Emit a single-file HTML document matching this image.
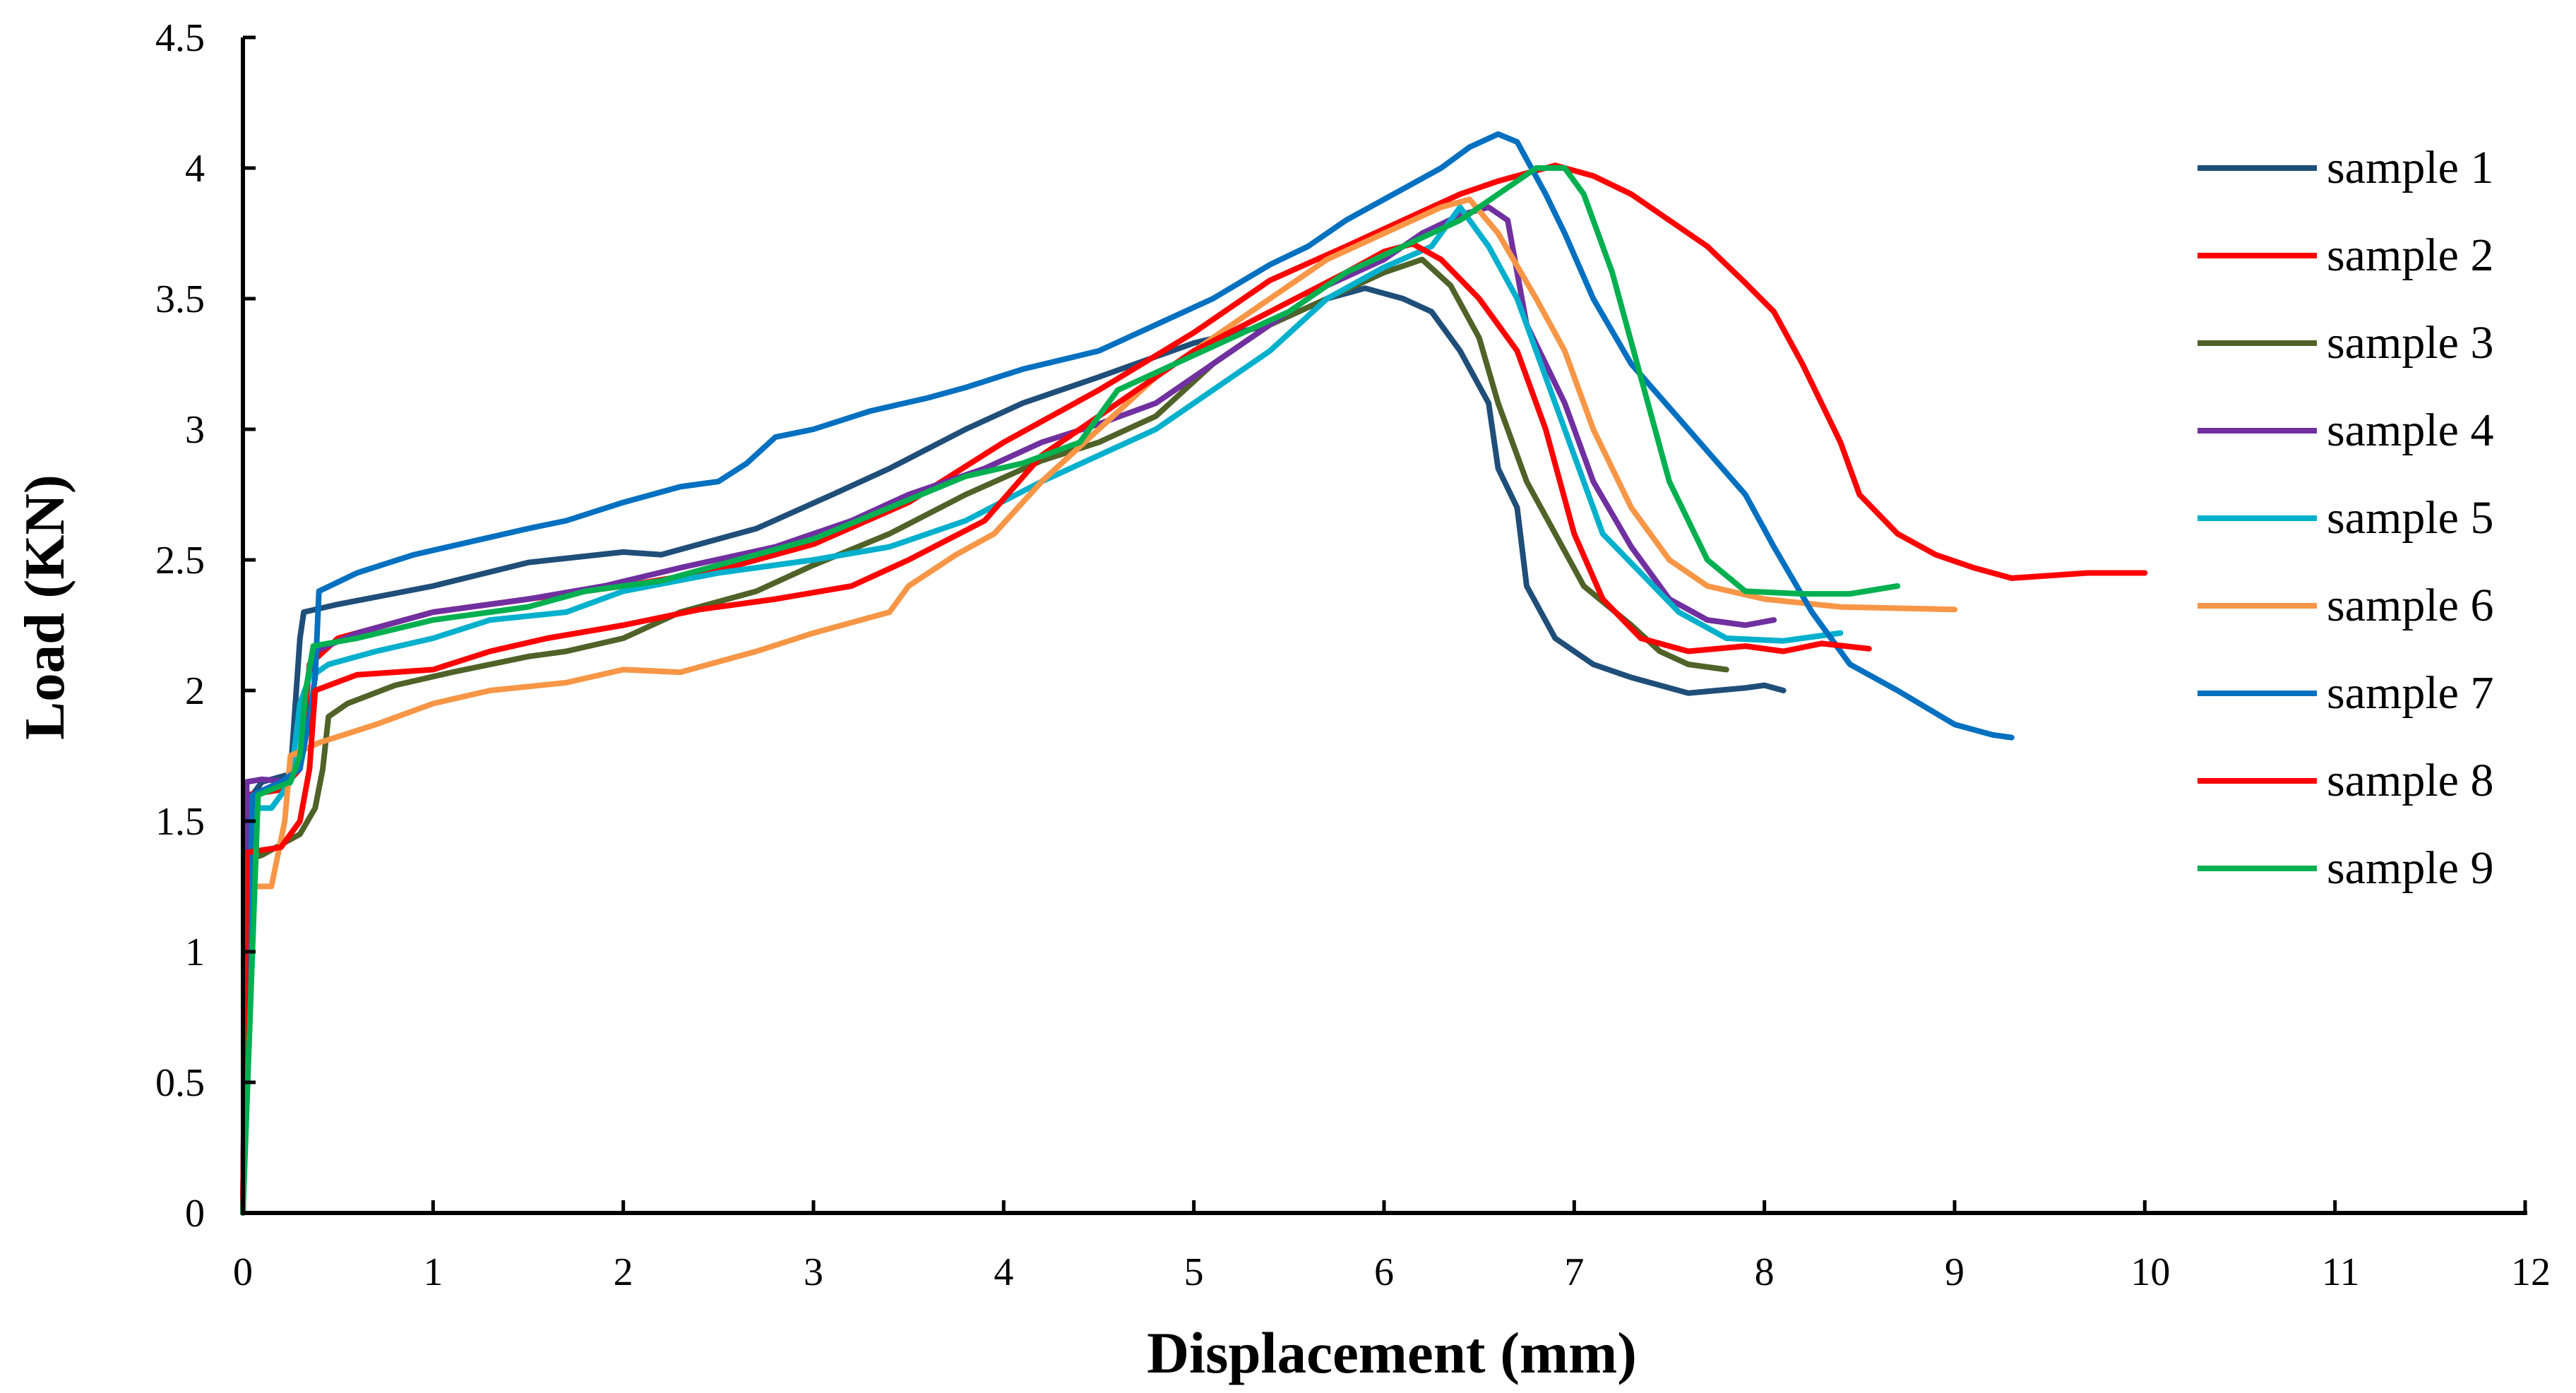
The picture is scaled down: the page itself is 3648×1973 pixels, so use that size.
<!DOCTYPE html>
<html><head><meta charset="utf-8"><style>
html,body{margin:0;padding:0;background:#fff}
svg{display:block;font-family:"Liberation Serif",serif}
</style></head><body>
<svg id="chart" width="3648" height="1973" viewBox="0 0 3648 1973" xmlns="http://www.w3.org/2000/svg">
<g id="plot"></g>
</svg>
<script>
const xTicks=[0,1,2,3,4,5,6,7,8,9,10,11,12];
const yTicks=[0,0.5,1,1.5,2,2.5,3,3.5,4,4.5];
const yTickLabels=["0","0.5","1","1.5","2","2.5","3","3.5","4","4.5"];
const seriesNames=["sample 1","sample 2","sample 3","sample 4","sample 5","sample 6","sample 7","sample 8","sample 9"];
const seriesColors=["#1F4E79","#FF0000","#4F6228","#7030A0","#00B0CC","#F79646","#0070C0","#FF0000","#00B050"];
const s1=[[0,0],[0.05,1.6],[0.1,1.65],[0.25,1.68],[0.3,2.2],[0.32,2.3],[0.5,2.33],[1,2.4],[1.5,2.49],[2,2.53],[2.2,2.52],[2.7,2.62],[3.1,2.75],[3.4,2.85],[3.8,3.0],[4.1,3.1],[4.5,3.2],[5,3.33],[5.4,3.4],[5.7,3.5],[5.9,3.54],[6.1,3.5],[6.25,3.45],[6.4,3.3],[6.55,3.1],[6.6,2.85],[6.7,2.7],[6.75,2.4],[6.9,2.2],[7.1,2.1],[7.3,2.05],[7.6,1.99],[7.9,2.01],[8.0,2.02],[8.1,2.0]];
const s2=[[0,0],[0.02,1.6],[0.2,1.62],[0.3,1.7],[0.35,2.1],[0.5,2.2],[1,2.3],[1.5,2.35],[2,2.4],[2.5,2.46],[3,2.56],[3.5,2.72],[4,2.95],[4.5,3.15],[5,3.37],[5.4,3.57],[5.8,3.7],[6.1,3.8],[6.4,3.9],[6.6,3.95],[6.9,4.01],[7.1,3.97],[7.3,3.9],[7.5,3.8],[7.7,3.7],[7.9,3.56],[8.05,3.45],[8.2,3.25],[8.4,2.95],[8.5,2.75],[8.7,2.6],[8.9,2.52],[9.1,2.47],[9.3,2.43],[9.5,2.44],[9.7,2.45],[10,2.45]];
const s3=[[0,0],[0.02,1.35],[0.1,1.37],[0.3,1.45],[0.38,1.55],[0.42,1.7],[0.45,1.9],[0.55,1.95],[0.8,2.02],[1.1,2.07],[1.5,2.13],[1.7,2.15],[2.0,2.2],[2.3,2.3],[2.7,2.38],[3.0,2.48],[3.4,2.6],[3.8,2.75],[4.2,2.88],[4.5,2.95],[4.8,3.05],[5.1,3.25],[5.4,3.4],[5.7,3.5],[6.0,3.6],[6.2,3.65],[6.35,3.55],[6.5,3.35],[6.6,3.1],[6.75,2.8],[6.9,2.6],[7.05,2.4],[7.3,2.25],[7.45,2.15],[7.6,2.1],[7.8,2.08]];
const s4=[[0,0],[0.02,1.65],[0.1,1.66],[0.25,1.65],[0.3,1.75],[0.33,2.0],[0.38,2.15],[0.6,2.22],[1.0,2.3],[1.5,2.35],[1.9,2.4],[2.3,2.47],[2.8,2.55],[3.2,2.65],[3.5,2.75],[3.9,2.85],[4.2,2.95],[4.5,3.02],[4.8,3.1],[5.1,3.25],[5.4,3.4],[5.7,3.55],[6.0,3.65],[6.2,3.75],[6.4,3.82],[6.55,3.85],[6.65,3.8],[6.75,3.4],[6.95,3.1],[7.1,2.8],[7.3,2.55],[7.5,2.35],[7.7,2.27],[7.9,2.25],[8.05,2.27]];
const s5=[[0,0],[0.05,1.55],[0.15,1.55],[0.25,1.65],[0.3,1.95],[0.35,2.05],[0.45,2.1],[0.7,2.15],[1.0,2.2],[1.3,2.27],[1.7,2.3],[2.0,2.38],[2.5,2.45],[3.0,2.5],[3.4,2.55],[3.8,2.65],[4.2,2.8],[4.5,2.9],[4.8,3.0],[5.1,3.15],[5.4,3.3],[5.7,3.5],[6.0,3.62],[6.25,3.7],[6.4,3.85],[6.55,3.7],[6.7,3.5],[6.85,3.2],[7.0,2.9],[7.15,2.6],[7.35,2.45],[7.55,2.3],[7.8,2.2],[8.1,2.19],[8.4,2.22]];
const s6=[[0,0],[0.05,1.25],[0.15,1.25],[0.22,1.5],[0.25,1.75],[0.4,1.8],[0.7,1.87],[1.0,1.95],[1.3,2.0],[1.7,2.03],[2.0,2.08],[2.3,2.07],[2.7,2.15],[3.0,2.22],[3.4,2.3],[3.5,2.4],[3.75,2.52],[3.95,2.6],[4.2,2.8],[4.5,3.0],[4.8,3.2],[5.1,3.35],[5.4,3.5],[5.7,3.65],[6.0,3.75],[6.3,3.85],[6.45,3.88],[6.6,3.75],[6.8,3.5],[6.95,3.3],[7.1,3.0],[7.3,2.7],[7.5,2.5],[7.7,2.4],[8.0,2.35],[8.4,2.32],[9.0,2.31]];
const s7=[[0,0],[0.05,1.6],[0.2,1.65],[0.3,1.7],[0.35,1.9],[0.38,2.05],[0.4,2.38],[0.6,2.45],[0.9,2.52],[1.2,2.57],[1.5,2.62],[1.7,2.65],[2.0,2.72],[2.3,2.78],[2.5,2.8],[2.65,2.87],[2.8,2.97],[3.0,3.0],[3.3,3.07],[3.6,3.12],[3.8,3.16],[4.1,3.23],[4.5,3.3],[4.8,3.4],[5.1,3.5],[5.4,3.63],[5.6,3.7],[5.8,3.8],[6.1,3.92],[6.3,4.0],[6.45,4.08],[6.6,4.13],[6.7,4.1],[6.85,3.9],[6.95,3.75],[7.1,3.5],[7.3,3.25],[7.6,3.0],[7.9,2.75],[8.05,2.55],[8.25,2.3],[8.45,2.1],[8.7,2.0],[9.0,1.87],[9.2,1.83],[9.3,1.82]];
const s8=[[0,0],[0.02,1.38],[0.2,1.4],[0.3,1.5],[0.35,1.7],[0.38,2.0],[0.6,2.06],[1.0,2.08],[1.3,2.15],[1.6,2.2],[2.0,2.25],[2.4,2.31],[2.8,2.35],[3.2,2.4],[3.5,2.5],[3.9,2.65],[4.2,2.9],[4.6,3.1],[5.0,3.3],[5.4,3.45],[5.8,3.6],[6.0,3.68],[6.15,3.71],[6.3,3.65],[6.5,3.5],[6.7,3.3],[6.85,3.0],[7.0,2.6],[7.15,2.35],[7.35,2.2],[7.6,2.15],[7.9,2.17],[8.1,2.15],[8.3,2.18],[8.55,2.16]];
const s9=[[0,0],[0.08,1.6],[0.25,1.65],[0.3,1.75],[0.33,2.0],[0.37,2.17],[0.6,2.2],[1.0,2.27],[1.5,2.32],[1.8,2.38],[2.2,2.42],[2.6,2.5],[3.0,2.58],[3.4,2.7],[3.8,2.82],[4.1,2.87],[4.4,2.95],[4.6,3.15],[4.9,3.25],[5.2,3.35],[5.5,3.45],[5.8,3.6],[6.1,3.7],[6.4,3.8],[6.6,3.9],[6.8,4.0],[6.95,4.0],[7.05,3.9],[7.2,3.6],[7.35,3.2],[7.5,2.8],[7.7,2.5],[7.9,2.38],[8.2,2.37],[8.45,2.37],[8.7,2.4]];
const allSeries=[s1,s2,s3,s4,s5,s6,s7,s8,s9];

const X0=344,X1=3576,Y0=1718,Y1=53,XMAX=12,YMAX=4.5;
function sx(v){return X0+(X1-X0)*v/XMAX;}
function sy(v){return Y0-(Y0-Y1)*v/YMAX;}
const NS="http://www.w3.org/2000/svg";
const g=document.getElementById('plot');
function mk(tag,attrs,parent){const e=document.createElementNS(NS,tag);for(const k in attrs)e.setAttribute(k,attrs[k]);(parent||g).appendChild(e);return e;}

allSeries.forEach((s,i)=>{
  const p=mk('polyline',{points:s.map(d=>sx(d[0]).toFixed(1)+','+sy(d[1]).toFixed(1)).join(' '),fill:'none',stroke:seriesColors[i],'stroke-width':8,'stroke-linejoin':'round','stroke-linecap':'round'});
  
  
});
const ya=mk('line',{x1:X0,y1:Y1,x2:X0,y2:Y0,stroke:'#000','stroke-width':6});


const xa=mk('line',{x1:X0-3,y1:Y0,x2:X1+3,y2:Y0,stroke:'#000','stroke-width':6});


yTicks.forEach((v,i)=>{
  const t=mk('line',{x1:X0,y1:sy(v),x2:X0+18,y2:sy(v),stroke:'#000','stroke-width':5});
  
  
  const l=mk('text',{x:X0-54,y:sy(v)+19,'text-anchor':'end','font-size':56});
  l.textContent=yTickLabels[i];
  
  
});
xTicks.forEach(v=>{
  const t=mk('line',{x1:sx(v),y1:Y0,x2:sx(v),y2:Y0-18,stroke:'#000','stroke-width':5});
  
  
  const l=mk('text',{x:sx(v)+(v>=10?8:0),y:Y0+102,'text-anchor':'middle','font-size':56});
  l.textContent=String(v);
  
  
});
const xt=mk('text',{x:1971,y:1944,'text-anchor':'middle','font-size':83,'font-weight':'bold'});
xt.textContent='Displacement (mm)';


const yt=mk('text',{x:0,y:0,'text-anchor':'middle','font-size':81,'font-weight':'bold',transform:'translate(90,860) rotate(-90)'});
yt.textContent='Load (KN)';


seriesNames.forEach((n,i)=>{
  const y=238+124*i;
  const lg=mk('g',{});
  
  
  mk('line',{x1:3112,y1:y,x2:3281,y2:y,stroke:seriesColors[i],'stroke-width':8},lg);
  const t=mk('text',{x:3295,y:y+21,'font-size':66},lg);
  t.textContent=n;
});
</script>
</body></html>
